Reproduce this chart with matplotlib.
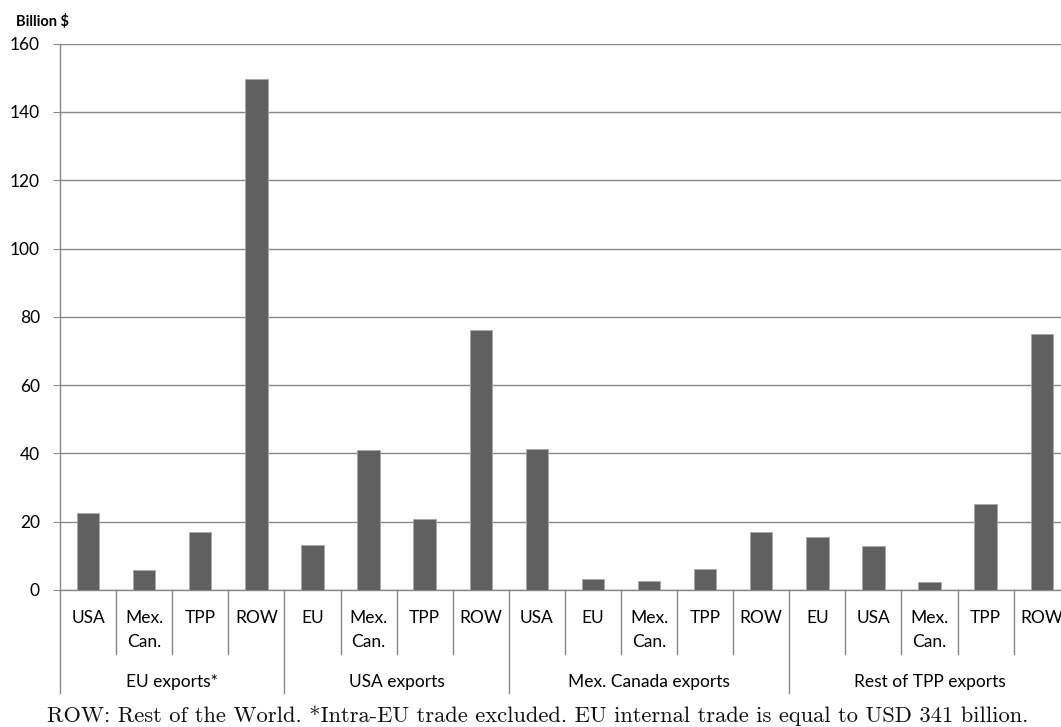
import matplotlib
matplotlib.use("Agg")
import matplotlib.pyplot as plt
import matplotlib.transforms as mtransforms

groups = ["EU exports*", "USA exports", "Mex. Canada exports", "Rest of TPP exports"]
group_categories = [
    ["USA", "Mex.\nCan.", "TPP", "ROW"],
    ["EU", "Mex.\nCan.", "TPP", "ROW"],
    ["USA", "EU", "Mex.\nCan.", "TPP", "ROW"],
    ["EU", "USA", "Mex.\nCan.", "TPP", "ROW"],
]
group_values = [
    [22.5, 5.8, 16.9, 149.8],
    [13.2, 41.0, 20.9, 76.2],
    [41.3, 3.2, 2.7, 6.2, 17.1],
    [15.5, 12.9, 2.4, 25.1, 75.0],
]
yticks = [0, 20, 40, 60, 80, 100, 120, 140, 160]
caption = "ROW: Rest of the World. *Intra-EU trade excluded. EU internal trade is equal to USD 341 billion."

categories = [c for g in group_categories for c in g]
values = [v for g in group_values for v in g]

W, H = 1061, 727
fig = plt.figure(figsize=(W / 100, H / 100), dpi=100)
left, right, top, bottom = 60, 1069.8, 43.7, 590
ax = fig.add_axes([left / W, 1 - bottom / H, (right - left) / W, (bottom - top) / H])

grid_c = "#878787"
bar_c = "#606060"
txt_c = "#000000"

x = list(range(len(values)))
ax.bar(x, values, width=0.4, color=bar_c, edgecolor="#a8a8a8", linewidth=0.6, zorder=3)

ax.set_xlim(-0.5, len(values) - 0.5)
ax.set_ylim(0, 160)
ax.set_yticks(yticks)
ax.set_yticklabels([str(t) for t in yticks], fontsize=12.5, family="Lato", color=txt_c)
ax.tick_params(axis="y", length=5, width=0.75, color=grid_c, pad=9.5)
ax.tick_params(axis="x", length=0, labelbottom=False)
ax.yaxis.grid(True, color=grid_c, linewidth=1.0, zorder=0)
ax.set_axisbelow(True)
for s in ["top", "right"]:
    ax.spines[s].set_visible(False)
ax.spines["left"].set_color(grid_c)
ax.spines["bottom"].set_color(grid_c)
ax.spines["left"].set_linewidth(1.0)
ax.spines["bottom"].set_linewidth(1.0)

trans = mtransforms.blended_transform_factory(ax.transData, ax.transAxes)
px = 1.0 / (bottom - top)
inner_bot = -(654 - bottom) * px
group_bot = -(693 - bottom) * px
lab_y = -(610 - bottom) * px
grp_y = -(682 - bottom) * px

# category labels
for i, c in enumerate(categories):
    ax.text(i, lab_y, c, transform=trans, ha="center", va="top", fontsize=12.5,
            family="Lato", color=txt_c, linespacing=1.6, clip_on=False)

# separators
boundaries = []
pos = 0
for g in group_categories:
    boundaries.append(pos)
    pos += len(g)
boundaries.append(pos)
for b in range(1, len(values)):
    ybot = group_bot if b in boundaries else inner_bot
    ax.plot([b - 0.5, b - 0.5], [0, ybot], transform=trans, color=grid_c,
            linewidth=1.0, clip_on=False, zorder=1)
ax.plot([-0.5, -0.5], [0, group_bot], transform=trans, color=grid_c,
        linewidth=1.0, clip_on=False, zorder=1)

# group labels
for gi, g in enumerate(groups):
    center = (boundaries[gi] + boundaries[gi + 1] - 1) / 2
    ax.text(center, grp_y, g, transform=trans, ha="center", va="center", fontsize=12.5,
            family="Lato", color=txt_c, clip_on=False)

fig.text(16 / W, 1 - 22 / H, "Billion $", fontsize=10.5, fontweight="bold",
         family="Lato", ha="left", va="center", color=txt_c)

fig.text(538 / W, 1 - 716 / H, caption, fontsize=16.2, family="cmr10",
         ha="center", va="center", color="#111111")

fig.savefig("out.png", dpi=100)
